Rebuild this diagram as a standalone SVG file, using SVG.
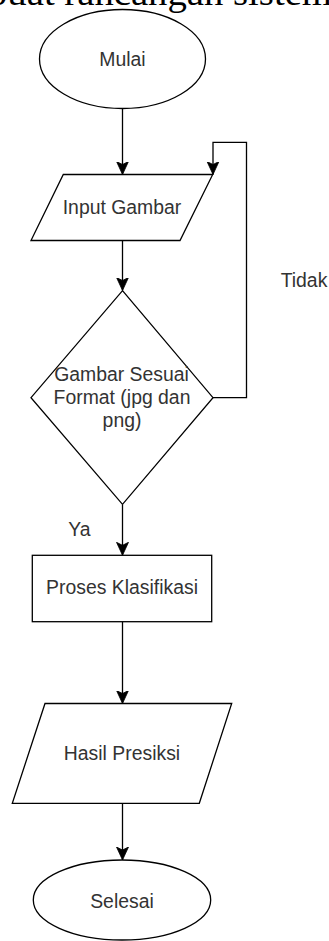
<svg xmlns="http://www.w3.org/2000/svg" width="329" height="941" viewBox="0 0 329 941">
<style>
.shape{fill:#fff;stroke:#000;stroke-width:1.3}
.edge{fill:none;stroke:#000;stroke-width:1.3}
.lbl{font-family:"Liberation Sans",Arial,sans-serif;font-size:19.4px;fill:#333;text-anchor:middle}
.title{font-family:"Liberation Serif","Times New Roman",serif;font-size:35px;fill:#000}
</style>
<defs>
<marker id="arr" markerUnits="userSpaceOnUse" markerWidth="14" markerHeight="14" viewBox="0 0 14 14" refX="13" refY="7" orient="auto">
<path d="M0,1 L13,7 L0,13 L3,7 z" fill="#000" stroke="#000" stroke-width="0.8"/>
</marker>
</defs>
<rect width="329" height="941" fill="#fff"/>
<text class="title" x="-12" y="5" textLength="344" lengthAdjust="spacingAndGlyphs">buat rancangan sistem</text>

<g id="connectors">
<line class="edge" x1="122.5" y1="108.5" x2="122.5" y2="174.5" marker-end="url(#arr)"/>
<line class="edge" x1="122.5" y1="240.5" x2="122.5" y2="290.5" marker-end="url(#arr)"/>
<line class="edge" x1="122.5" y1="504.5" x2="122.5" y2="555.3" marker-end="url(#arr)"/>
<line class="edge" x1="122.5" y1="621.7" x2="122.5" y2="703.5" marker-end="url(#arr)"/>
<line class="edge" x1="122.5" y1="803.3" x2="122.5" y2="860" marker-end="url(#arr)"/>
<polyline class="edge" points="213,397.7 246.5,397.7 246.5,142.3 213,142.3 213,174.5" marker-end="url(#arr)"/>
<text class="lbl" x="304" y="287.3">Tidak</text>
<text class="lbl" x="79.5" y="536">Ya</text>
</g>

<g id="mulai">
<ellipse class="shape" cx="122.5" cy="59" rx="83" ry="49.5"/>
<text class="lbl" x="122.5" y="66">Mulai</text>
</g>

<g id="input-gambar">
<polygon class="shape" points="63.3,174.5 212.7,174.5 180,240.5 31,240.5"/>
<text class="lbl" x="122" y="214">Input Gambar</text>
</g>

<g id="cek-format">
<polygon class="shape" points="122.5,290.7 213,397.7 122.5,504.3 31,397.7"/>
<text class="lbl" x="121.5" y="381">Gambar Sesuai</text>
<text class="lbl" x="122" y="404">Format (jpg dan</text>
<text class="lbl" x="122" y="427">png)</text>
</g>

<g id="proses-klasifikasi">
<rect class="shape" x="32.3" y="555.3" width="179.4" height="66.4"/>
<text class="lbl" x="122" y="594">Proses Klasifikasi</text>
</g>

<g id="hasil-presiksi">
<polygon class="shape" points="45,703.5 231.7,703.5 199.3,803.3 12.3,803.3"/>
<text class="lbl" x="122" y="759.5">Hasil Presiksi</text>
</g>

<g id="selesai">
<ellipse class="shape" cx="122" cy="900" rx="88.7" ry="40"/>
<text class="lbl" x="122" y="907.5">Selesai</text>
</g>
</svg>
